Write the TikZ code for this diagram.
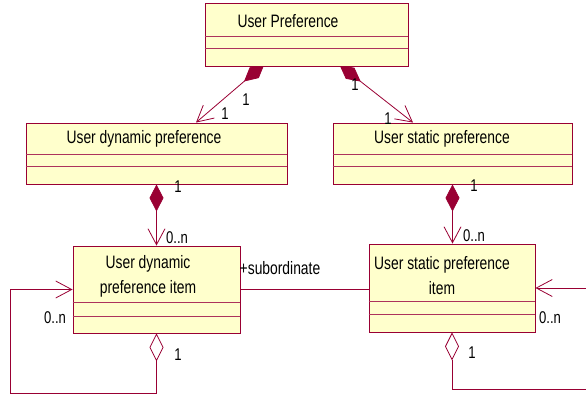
\documentclass[tikz,border=0pt]{standalone}
\usepackage{fontspec}
\setmainfont[FakeStretch=0.77]{Liberation Sans}
\usetikzlibrary{arrows.meta, positioning, backgrounds}
\definecolor{umlred}{HTML}{990033}
\definecolor{umlfill}{HTML}{FFFFCC}

\begin{document}
\begin{tikzpicture}[x=1pt, y=-1pt,
    % class boxes, compartments and texts
    cls/.style={rectangle, draw=umlred, fill=umlfill, line width=0.9pt, inner sep=0pt},
    compline/.style={draw=umlred!80, line width=0.7pt},
    clsname/.style={font=\fontsize{18}{25}\selectfont, inner sep=0pt, align=center},
    multlabel/.style={font=\fontsize{17}{20}\selectfont, inner sep=0pt},
    % connectors
    assoc/.style={draw=umlred, line width=0.8pt},
    comp/.style={assoc, {Diamond[length=27pt,width=14pt,fill=umlred]}-{Straight Barb[length=16pt,width=17pt]}},
    aggr/.style={assoc, {Diamond[length=28pt,width=14pt,fill=white]}-{Straight Barb[length=16pt,width=17pt]}}
]
\useasboundingbox (0,0) rectangle (586,396);

% User Preference
\node[cls, minimum width=203pt, minimum height=63pt] (pref) at (306.5,34.5) {};
\node[clsname] (preftxt) at (288,21) {User Preference};
\draw[compline] ([yshift=-34pt]pref.north west) -- ([yshift=-34pt]pref.north east);
\draw[compline] ([yshift=-46pt]pref.north west) -- ([yshift=-46pt]pref.north east);

% dynamic / static preference
\node[cls, minimum width=261pt, minimum height=61pt] (dyn) at (156.5,153.5) {};
\node[clsname] (dyntxt) at (144,139) {User dynamic preference};
\draw[compline] ([yshift=-32pt]dyn.north west) -- ([yshift=-32pt]dyn.north east);
\draw[compline] ([yshift=-44pt]dyn.north west) -- ([yshift=-44pt]dyn.north east);

\node[cls, minimum width=239pt, minimum height=61pt] (stat) at (452.5,153.5) {};
\node[clsname] (stattxt) at (442,139) {User static preference};
\draw[compline] ([yshift=-32pt]stat.north west) -- ([yshift=-32pt]stat.north east);
\draw[compline] ([yshift=-44pt]stat.north west) -- ([yshift=-44pt]stat.north east);

% preference items
\node[cls, minimum width=167pt, minimum height=87pt] (dynitem) at (156.5,289.5) {};
\node[clsname] (dynitemtxt) at (148,276.5) {User dynamic\\preference item};
\draw[compline] ([yshift=-57pt]dynitem.north west) -- ([yshift=-57pt]dynitem.north east);
\draw[compline] ([yshift=-71pt]dynitem.north west) -- ([yshift=-71pt]dynitem.north east);

\node[cls, minimum width=166pt, minimum height=88pt] (statitem) at (452,288) {};
\node[clsname] (statitemtxt) at (442,276) {User static preference\\item};
\draw[compline] ([yshift=-58pt]statitem.north west) -- ([yshift=-58pt]statitem.north east);
\draw[compline] ([yshift=-71pt]statitem.north west) -- ([yshift=-71pt]statitem.north east);

% compositions from the top class, partly under its box
\begin{scope}[on background layer]
\draw[comp] ([xshift=-42pt,yshift=2.5pt]pref.south) -- ([xshift=39.5pt]dyn.north);
\draw[comp] ([xshift=33pt,yshift=1.5pt]pref.south) -- ([xshift=-39.5pt]stat.north);
\end{scope}

\draw[comp] (dyn.south) -- (dynitem.north);
\draw[comp] (stat.south) -- (stat.south |- statitem.north);

% association and self loops
\draw[assoc] (dynitem.east) -- (dynitem.east -| statitem.west);
\node[clsname] (role) at (280,268) {+subordinate};

\coordinate (dynloop) at (10,393);
\draw[aggr] (dynitem.south) |- (dynloop) |- (dynitem.west);
\coordinate (statloop) at (592,389);
\draw[aggr] (statitem.south) |- (statloop) |- (statitem.east);

% multiplicities
\node[multlabel] (m1) at (246,100) {1};
\node[multlabel] (m2) at (225,114) {1};
\node[multlabel] (m3) at (355,85) {1};
\node[multlabel] (m4) at (388,119) {1};
\node[multlabel] (m5) at (178,187) {1};
\node[multlabel] (m6) at (177,238) {0..n};
\node[multlabel] (m7) at (55,318) {0..n};
\node[multlabel] (m8) at (178,355) {1};
\node[multlabel] (m9) at (474,186) {1};
\node[multlabel] (m10) at (474,236) {0..n};
\node[multlabel] (m11) at (550,318) {0..n};
\node[multlabel] (m12) at (472,353) {1};

\end{tikzpicture}
\end{document}
